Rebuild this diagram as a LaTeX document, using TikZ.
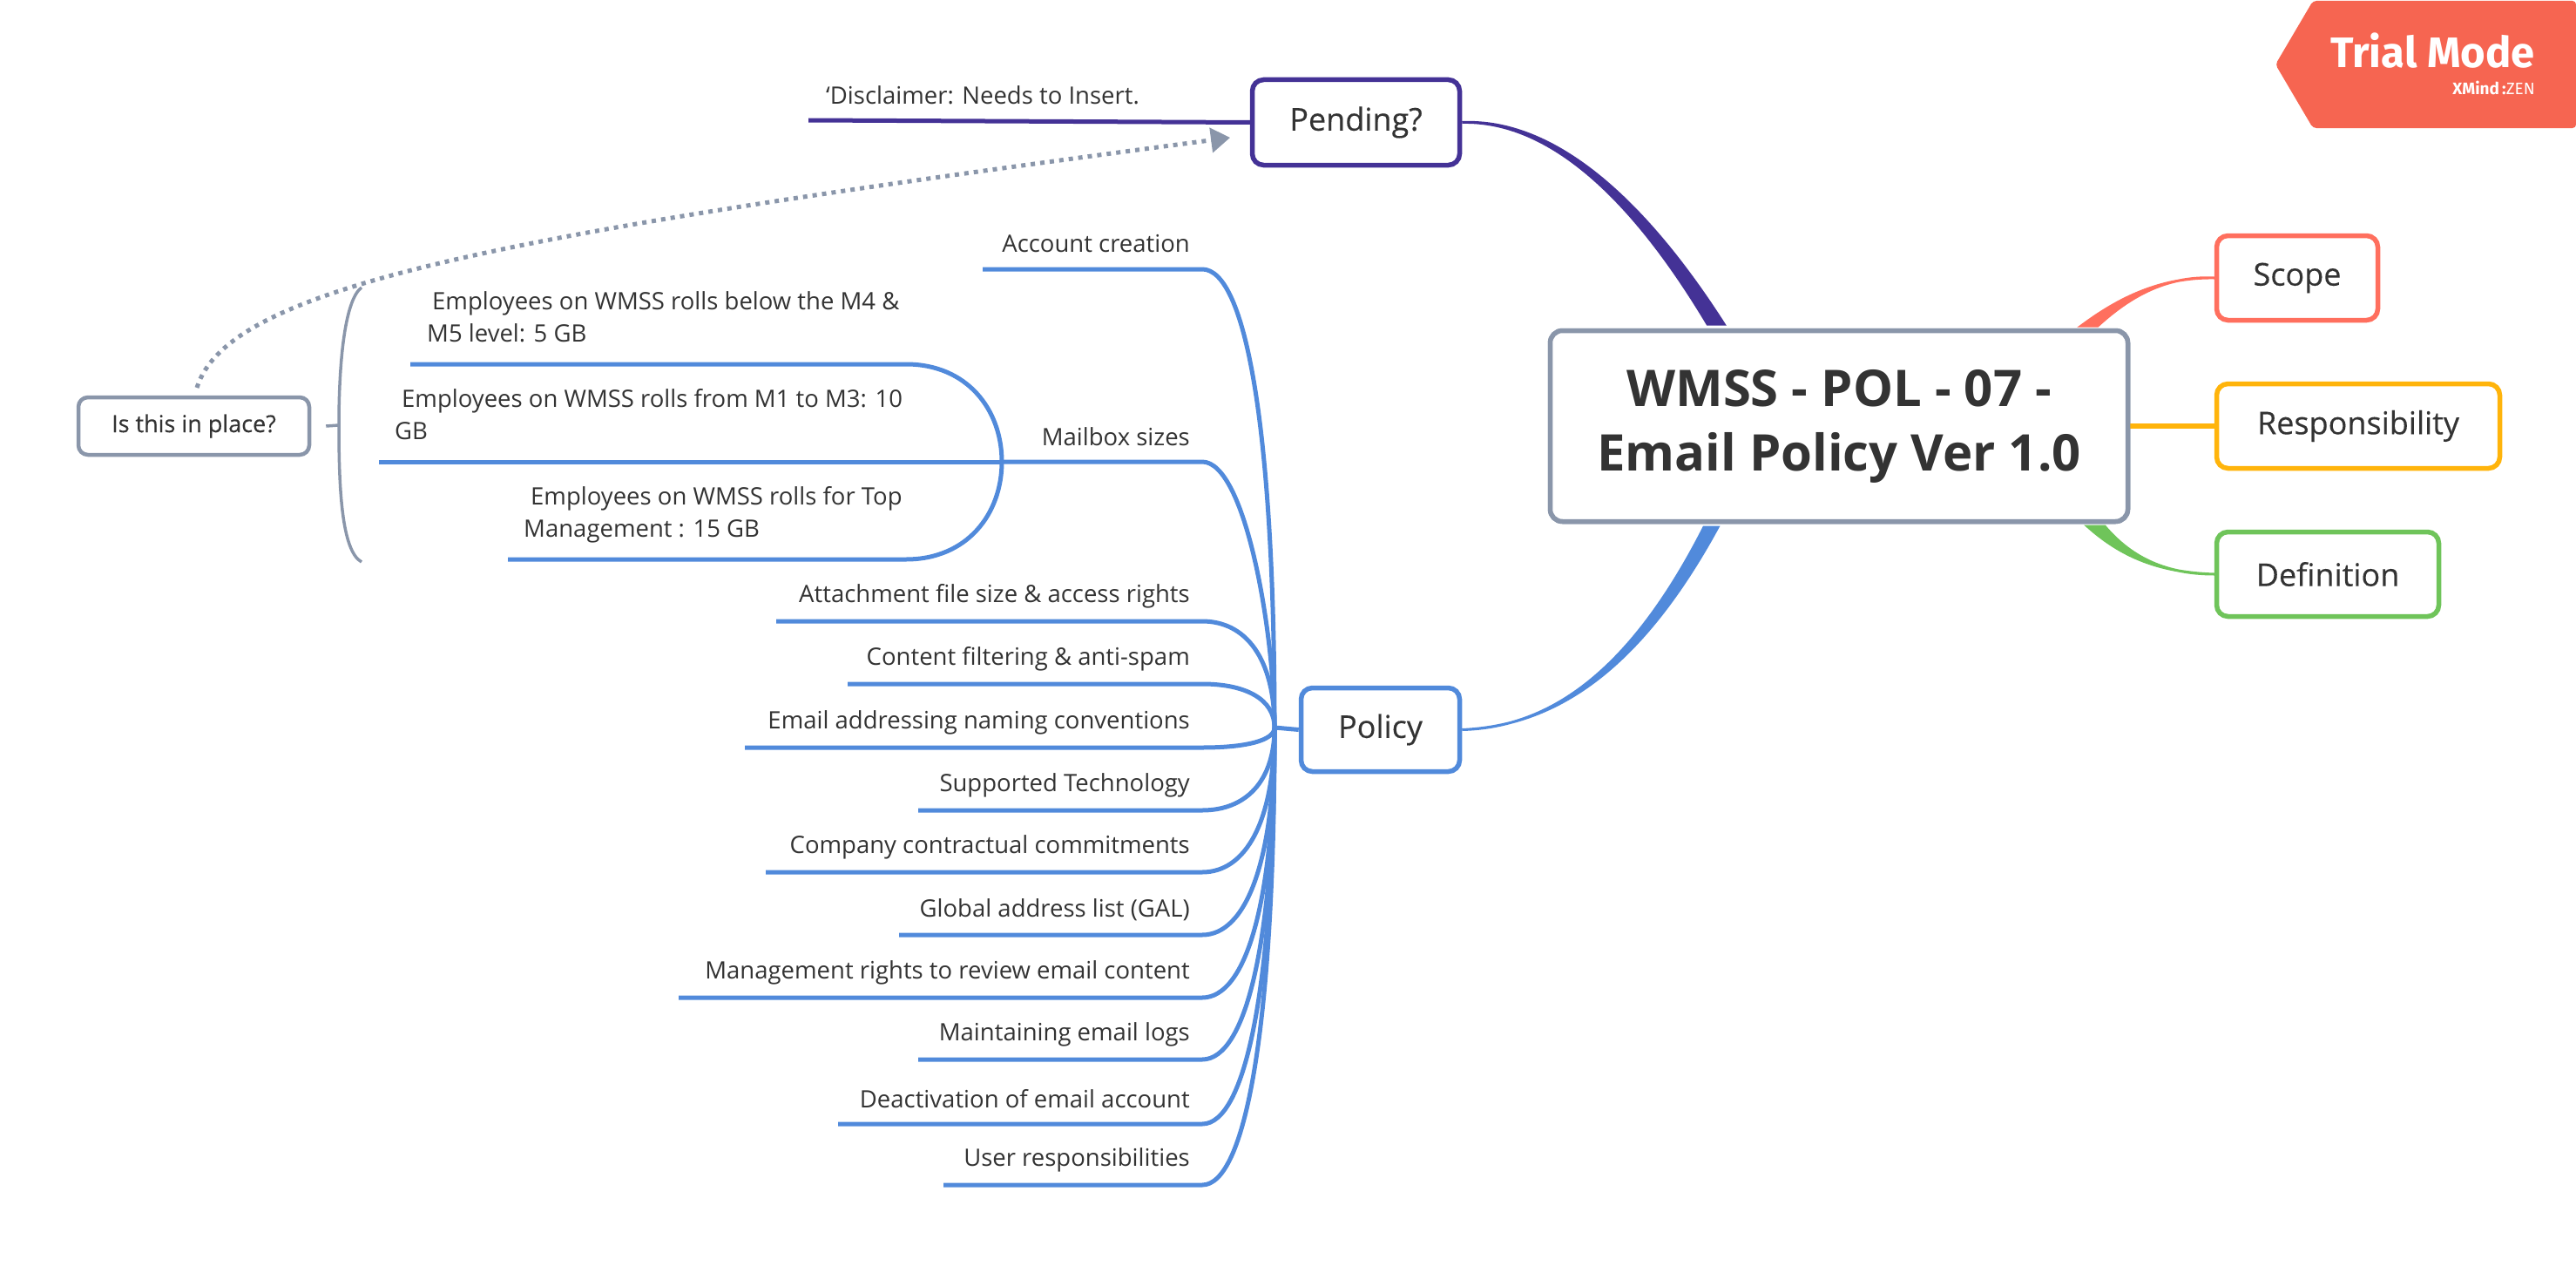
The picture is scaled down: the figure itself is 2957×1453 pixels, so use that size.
\documentclass[tikz,border=0pt]{standalone}
\usepackage{fontspec}
\setmainfont{Open Sans}
\newfontfamily\medfont[FakeBold=0.25]{Open Sans}
\newfontfamily\badgefont{Fira Sans}
\usetikzlibrary{arrows.meta}
\definecolor{ink}{HTML}{333333}
\definecolor{purp}{HTML}{443296}
\definecolor{blu}{HTML}{518ADB}
\definecolor{gry}{HTML}{8A96AA}
\definecolor{redd}{HTML}{FF6F5E}
\definecolor{yel}{HTML}{FFB40B}
\definecolor{grn}{HTML}{6FC45A}
\definecolor{badge}{HTML}{F66551}
\tikzset{
 x=1pt,y=-1pt,
 topicbox/.style={draw=#1,line width=5.5pt,rounded corners=13pt,fill=white,text=ink,inner sep=0pt,font=\medfont\fontsize{36}{44}\selectfont},
 leaflabel/.style={anchor=east,text=ink,inner sep=0pt,font=\fontsize{27.5}{37}\selectfont},
 multilabel/.style={anchor=north west,align=left,text=ink,inner sep=0pt,font=\fontsize{27.5}{37}\selectfont},
 branch/.style={draw=blu,line width=5pt},
}
\begin{document}
\begin{tikzpicture}
\useasboundingbox (0,0) rectangle (2957,1453);
% badge
\fill[badge,rounded corners=4pt] (2612,74) -- (2655,1) -- (2957,1) -- (2957,147) -- (2655,147) -- cycle;
\node[anchor=base east,inner sep=0pt,text=white,font=\badgefont\bfseries\fontsize{49}{49}\selectfont] (trial) at (2910,78) {Trial Mode};
\node[anchor=base east,inner sep=0pt,text=white,font=\badgefont\fontsize{19}{19}\selectfont] (xmind) at (2910,109) {\textbf{XMind\,:}ZEN};
% nodes geometry
\coordinate (J) at (1463,835);
\coordinate (M) at (1150,530);
% tapered main connectors
\node[topicbox=gry,minimum width=663pt,minimum height=219pt,align=center,rounded corners=14pt,font=\bfseries\fontsize{58}{74}\selectfont] (root) at (2111,489) {WMSS - POL - 07 -\\Email Policy Ver 1.0};
\node[topicbox=purp,minimum width=238pt,minimum height=98pt] (pending) at (1556.5,140.5) {Pending?};
\node[topicbox=blu,minimum width=182pt,minimum height=96pt] (policy) at (1584.5,837.5) {Policy};
\node[topicbox=redd,minimum width=185pt,minimum height=97pt] (scope) at (2637,319) {Scope};
\node[topicbox=yel,minimum width=325pt,minimum height=97pt] (resp) at (2707,489) {Responsibility};
\node[topicbox=grn,minimum width=255pt,minimum height=97pt] (defn) at (2672,659) {Definition};
\node[draw=gry,line width=4.5pt,rounded corners=11pt,fill=white,text=ink,inner sep=0pt,minimum width=265pt,minimum height=66pt,font=\medfont\fontsize{27}{33}\selectfont] (place) at (222.5,489) {Is this in place?};
\begin{scope}[on background layer/.try]
\end{scope}
\coordinate (pa) at (1960,372); \coordinate (pb) at (1979,372);
\filldraw[purp,line width=3pt] (pending.east) .. controls (1780,138) and (1875,230) .. (pa) -- (pb) .. controls (1888,230) and (1785,136) .. (pending.east);
\coordinate (qa) at (1956,605); \coordinate (qb) at (1972,605);
\filldraw[blu,line width=3pt] (policy.east) .. controls (1780,835) and (1872,770) .. (qa) -- (qb) .. controls (1882,770) and (1785,833) .. (policy.east);
\coordinate (sa) at (2389,374); \coordinate (sb) at (2408,374);
\filldraw[redd,line width=3pt] (scope.west) .. controls (2480,318) and (2432,342) .. (sa) -- (sb) .. controls (2440,345) and (2482,316) .. (scope.west);
\coordinate (da) at (2396,604); \coordinate (db) at (2416,604);
\filldraw[grn,line width=3pt] (defn.west) .. controls (2480,657) and (2436,640) .. (da) -- (db) .. controls (2444,637) and (2482,659) .. (defn.west);
\draw[yel,line width=6pt] (root.east) -- (resp.west);
\draw[blu,line width=5pt] (J) -- (policy.west);
% redraw root over connectors
\node[topicbox=gry,minimum width=663pt,minimum height=219pt,align=center,rounded corners=14pt,font=\bfseries\fontsize{58}{74}\selectfont] at (2111,489) {WMSS - POL - 07 -\\Email Policy Ver 1.0};
% pending leaf
\coordinate (dl) at (928,138);
\draw[purp,line width=5pt] (dl) -- (pending.west);
\node[leaflabel,anchor=base west] (disc) at (948,120) {‘Disclaimer: Needs to Insert.};
% leaf lines
\foreach \nm/\lx/\ly/\txt in {
 acct/1128/309/Account creation,
 attach/891/713/Attachment file size \& access rights,
 filt/973/785/Content filtering \& anti-spam,
 addr/855/858/Email addressing naming conventions,
 tech/1054/930/Supported Technology,
 comm/879/1001/Company contractual commitments,
 gal/1032/1073/Global address list (GAL),
 mgmt/779/1145/Management rights to review email content,
 logs/1054/1216/Maintaining email logs,
 deac/962/1290/Deactivation of email account,
 user/1083/1360/User responsibilities}{
  \coordinate (c\nm) at (\lx,\ly);
  \node[leaflabel] (\nm) at (1366,\ly-29) {\txt};
  \draw[branch] (c\nm) -- (1380,\ly) .. controls (1430,\ly) and (1463,{\ly+0.35*(835-\ly)}) .. (J);
}
% mailbox
\coordinate (cmail) at (1150,530);
\node[leaflabel] (mail) at (1366,501) {Mailbox sizes};
\draw[branch] (cmail) -- (1380,530) .. controls (1430,530) and (1463,728) .. (J);
\coordinate (e1) at (471,418); \coordinate (e2) at (435,530); \coordinate (e3) at (583,642);
\draw[branch] (e1) -- (1040,418) .. controls (1110,418) and (1150,470) .. (M);
\draw[branch] (e2) -- (M);
\draw[branch] (e3) -- (1040,642) .. controls (1110,642) and (1150,590) .. (M);
\node[multilabel] (t1) at (490,334) {\hspace*{6pt}Employees on WMSS rolls below the M4 \&\\M5 level: 5 GB};
\node[multilabel] (t2) at (453,446) {\hspace*{8pt}Employees on WMSS rolls from M1 to M3: 10\\GB};
\node[multilabel] (t3) at (601,558) {\hspace*{8pt}Employees on WMSS rolls for Top\\Management : 15 GB};
% boundary bracket
\coordinate (bt) at (415,330); \coordinate (bb) at (415,645); \coordinate (bm) at (389,488);
\draw[gry,line width=3.5pt] (bt) .. controls (395,345) and (389,420) .. (bm) .. controls (389,560) and (392,632) .. (bb);
\draw[gry,line width=3.5pt] (place.east)++(17,0) -- (bm);
% relationship
\coordinate (rel) at (1412,158);
\draw[gry,line width=5pt,dash pattern=on 5pt off 6pt,-{Triangle[length=22pt,width=28pt]}] (226,445) .. controls (262,330) and (560,270) .. (rel);
\end{tikzpicture}
\end{document}
